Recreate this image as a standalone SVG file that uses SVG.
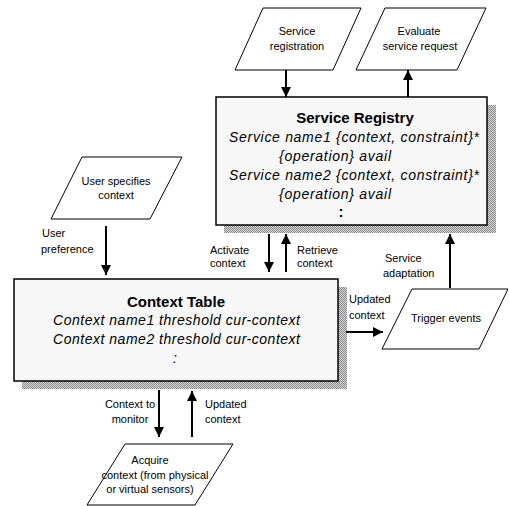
<svg xmlns="http://www.w3.org/2000/svg" width="509" height="506" viewBox="0 0 509 506">
<style>
  text { font-family: "Liberation Sans", Arial, sans-serif; fill: #000; }
  .lbl { font-size: 11px; }
  .ttl { font-size: 15px; font-weight: bold; }
  .it { font-size: 14px; font-style: italic; }
  .box { fill: #f7f7f7; stroke: #000; stroke-width: 1.5; }
  .shadow { fill: url(#dots); }
  .para { fill: #fff; stroke: #000; stroke-width: 1; }
  .arr { stroke: #000; stroke-width: 2; fill: none; marker-end: url(#ah); }
</style>
<defs>
  <pattern id="dots" width="2" height="2" patternUnits="userSpaceOnUse">
    <rect width="2" height="2" fill="#d8d8d8"/>
    <rect width="1" height="1" fill="#888"/>
    <rect x="1" y="1" width="1" height="1" fill="#888"/>
  </pattern>
  <marker id="ah" markerUnits="userSpaceOnUse" markerWidth="10" markerHeight="10" refX="10" refY="5" orient="auto">
    <path d="M0,0 L10,5 L0,10 z" fill="#000"/>
  </marker>
</defs>

<g id="service-registration">
  <polygon class="para" points="263,8 361,8 333,70 235,70"/>
  <text class="lbl" x="297" y="35" text-anchor="middle">Service</text>
  <text class="lbl" x="297" y="50" text-anchor="middle">registration</text>
</g>

<g id="evaluate-service-request">
  <polygon class="para" points="385,8 486,8 457,70 356,70"/>
  <text class="lbl" x="419" y="35" text-anchor="middle">Evaluate</text>
  <text class="lbl" x="420" y="50" text-anchor="middle">service request</text>
</g>

<g id="service-registry">
  <rect class="shadow" x="224" y="105" width="272" height="128"/>
  <rect class="box" x="216" y="97" width="271" height="128"/>
  <text class="ttl" x="355" y="123" text-anchor="middle">Service Registry</text>
  <text class="it" x="229" y="142" textLength="250" lengthAdjust="spacing">Service name1 {context, constraint}*</text>
  <text class="it" x="279" y="161" textLength="112" lengthAdjust="spacing">{operation} avail</text>
  <text class="it" x="229" y="180" textLength="250" lengthAdjust="spacing">Service name2 {context, constraint}*</text>
  <text class="it" x="279" y="199" textLength="112" lengthAdjust="spacing">{operation} avail</text>
  <text class="ttl" x="341" y="217" text-anchor="middle">:</text>
</g>

<g id="user-specifies-context">
  <polygon class="para" points="82,157 182,157 150,219 51,219"/>
  <text class="lbl" x="116" y="185" text-anchor="middle">User specifies</text>
  <text class="lbl" x="116" y="199" text-anchor="middle">context</text>
</g>

<g id="context-table">
  <rect class="shadow" x="22" y="287" width="325" height="102"/>
  <rect class="box" x="14" y="279" width="324" height="102"/>
  <text class="ttl" x="176" y="307" text-anchor="middle">Context Table</text>
  <text class="it" x="53" y="325" textLength="247" lengthAdjust="spacing">Context name1 threshold cur-context</text>
  <text class="it" x="53" y="344" textLength="247" lengthAdjust="spacing">Context name2 threshold cur-context</text>
  <text class="it" x="175" y="363" text-anchor="middle">:</text>
</g>

<g id="trigger-events">
  <polygon class="para" points="412,289 508,289 479,349 382,349"/>
  <text class="lbl" x="446" y="322" text-anchor="middle">Trigger events</text>
</g>

<g id="acquire-context">
  <polygon class="para" points="125,444 233,444 195,505 87,505"/>
  <text class="lbl" x="150" y="464" text-anchor="middle">Acquire</text>
  <text class="lbl" x="155" y="479" text-anchor="middle">context (from physical</text>
  <text class="lbl" x="150" y="493" text-anchor="middle">or virtual sensors)</text>
</g>

<g id="connectors">
  <line class="arr" x1="286" y1="70" x2="286" y2="97"/>
  <line class="arr" x1="408" y1="97" x2="408" y2="70"/>
  <line class="arr" x1="106" y1="226" x2="106" y2="275"/>
  <line class="arr" x1="269" y1="234" x2="269" y2="272"/>
  <line class="arr" x1="286" y1="272" x2="286" y2="234"/>
  <line class="arr" x1="450" y1="288" x2="450" y2="234"/>
  <line class="arr" x1="346" y1="332" x2="383" y2="332"/>
  <line class="arr" x1="159" y1="390" x2="159" y2="437"/>
  <line class="arr" x1="192" y1="437" x2="192" y2="391"/>
  <text class="lbl" x="42" y="237">User</text>
  <text class="lbl" x="41" y="253">preference</text>
  <text class="lbl" x="210" y="254">Activate</text>
  <text class="lbl" x="210" y="267">context</text>
  <text class="lbl" x="297" y="254">Retrieve</text>
  <text class="lbl" x="297" y="267">context</text>
  <text class="lbl" x="385" y="262">Service</text>
  <text class="lbl" x="383" y="277">adaptation</text>
  <text class="lbl" x="349" y="303">Updated</text>
  <text class="lbl" x="349" y="319">context</text>
  <text class="lbl" x="130" y="408" text-anchor="middle">Context to</text>
  <text class="lbl" x="130" y="423" text-anchor="middle">monitor</text>
  <text class="lbl" x="205" y="408">Updated</text>
  <text class="lbl" x="205" y="423">context</text>
</g>
</svg>
